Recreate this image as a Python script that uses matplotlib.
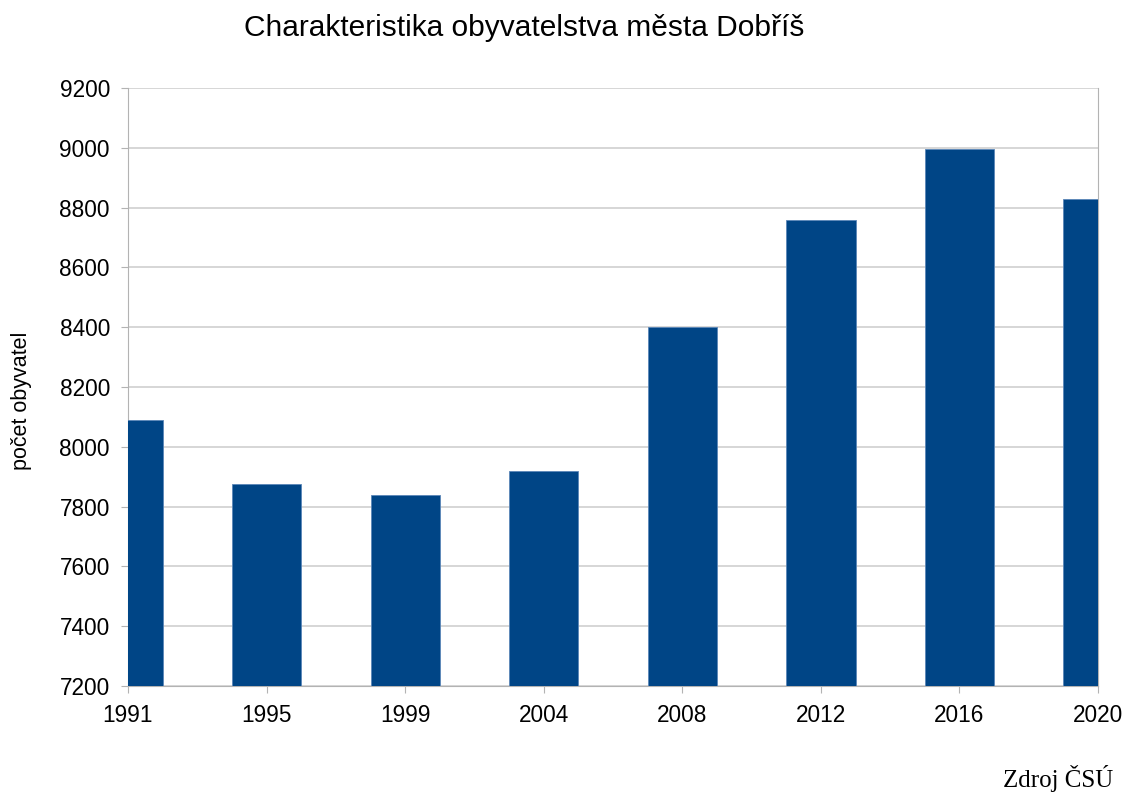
import matplotlib
matplotlib.use("Agg")
import matplotlib.pyplot as plt
import numpy as np

years = ["1991", "1995", "1999", "2004", "2008", "2012", "2016", "2020"]
population = [8090, 7877, 7838, 7920, 8401, 8758, 8997, 8830]
yticks = [7200, 7400, 7600, 7800, 8000, 8200, 8400, 8600, 8800, 9000, 9200]

plt.rcParams['font.family'] = ['Liberation Sans', 'DejaVu Sans']

fig = plt.figure(figsize=(11.27, 7.94), dpi=100)
ax = fig.add_axes([128/1127, 1-686/794, (1098-128)/1127, (686-88)/794])

x = np.arange(len(years))
ax.bar(x, population, width=0.5, color='#004586', edgecolor='#5a86b8', linewidth=0.6, zorder=3)
ax.set_xlim(0, len(years) - 1)
ax.set_ylim(7200, 9200)
ax.set_yticks(yticks)
ax.set_xticks(x)
ax.set_xticklabels(years)
ax.grid(axis='y', color='#d0d0d0', linewidth=1.2, zorder=0)
for s in ['left', 'bottom', 'right']:
    ax.spines[s].set_color('#b3b3b3')
ax.spines['top'].set_visible(False)
ax.tick_params(axis='both', colors='#b3b3b3', labelcolor='black', labelsize=16.3, length=5)
ax.tick_params(axis='x', pad=8)
ax.tick_params(axis='y', pad=8)

fig.text(22/1127, 1-401/794, 'počet obyvatel', fontsize=15.5, rotation=90,
         ha='center', va='center')
fig.text(524/1127, 1-28/794, 'Charakteristika obyvatelstva města Dobříš', fontsize=21.5,
         ha='center', va='center')
fig.text(1058/1127, 1-778/794, 'Zdroj ČSÚ', fontsize=18, family=['Liberation Serif', 'DejaVu Serif'],
         ha='center', va='center')

fig.savefig('out.png', dpi=100)
